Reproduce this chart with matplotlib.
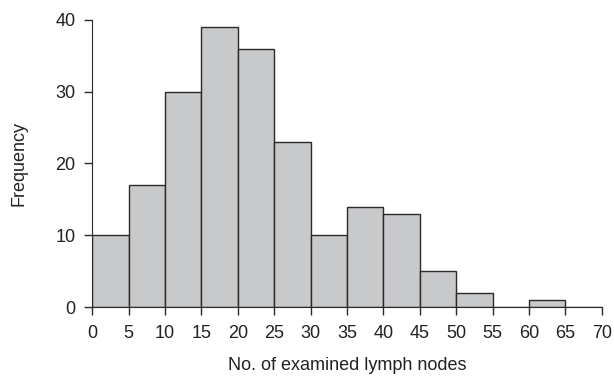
import matplotlib
matplotlib.use("Agg")
import matplotlib.pyplot as plt
import numpy as np

# histogram of examined lymph nodes (bin width 5)
bin_edges = [0, 5, 10, 15, 20, 25, 30, 35, 40, 45, 50, 55, 60, 65, 70]
counts = [10, 17, 30, 39, 36, 23, 10, 14, 13, 5, 2, 0, 1, 0]
x_ticks = [0, 5, 10, 15, 20, 25, 30, 35, 40, 45, 50, 55, 60, 65, 70]
y_ticks = [0, 10, 20, 30, 40]

plt.rcParams['font.family'] = ['Liberation Sans', 'DejaVu Sans']

fig = plt.figure(figsize=(6.14, 3.84), dpi=100)
ax = fig.add_axes([0.15, 0.2005, 0.83, 0.7475])

ax.bar(bin_edges[:-1], counts, width=np.diff(bin_edges), align='edge',
       color='#c8c9cb', edgecolor='#2a2a2a', linewidth=1.0)

ax.set_xlim(0, 70)
ax.set_ylim(0, 40)
ax.set_xticks(x_ticks)
ax.set_yticks(y_ticks)
ax.spines['top'].set_visible(False)
ax.spines['right'].set_visible(False)
ax.spines['left'].set_bounds(0, 40)
ax.spines['left'].set_color('#2a2a2a')
ax.spines['bottom'].set_color('#2a2a2a')
ax.tick_params(axis='both', direction='out', length=6, width=1, color='#2a2a2a',
               labelsize=13, labelcolor='#222222')
ax.tick_params(axis='x', pad=7)
ax.tick_params(axis='y', pad=6)

ax.set_xlabel("No. of examined lymph nodes", fontsize=13, color='#222222', labelpad=11)
ax.set_ylabel("Frequency", fontsize=13, color='#222222', labelpad=20)

fig.savefig("out.png", dpi=100)
